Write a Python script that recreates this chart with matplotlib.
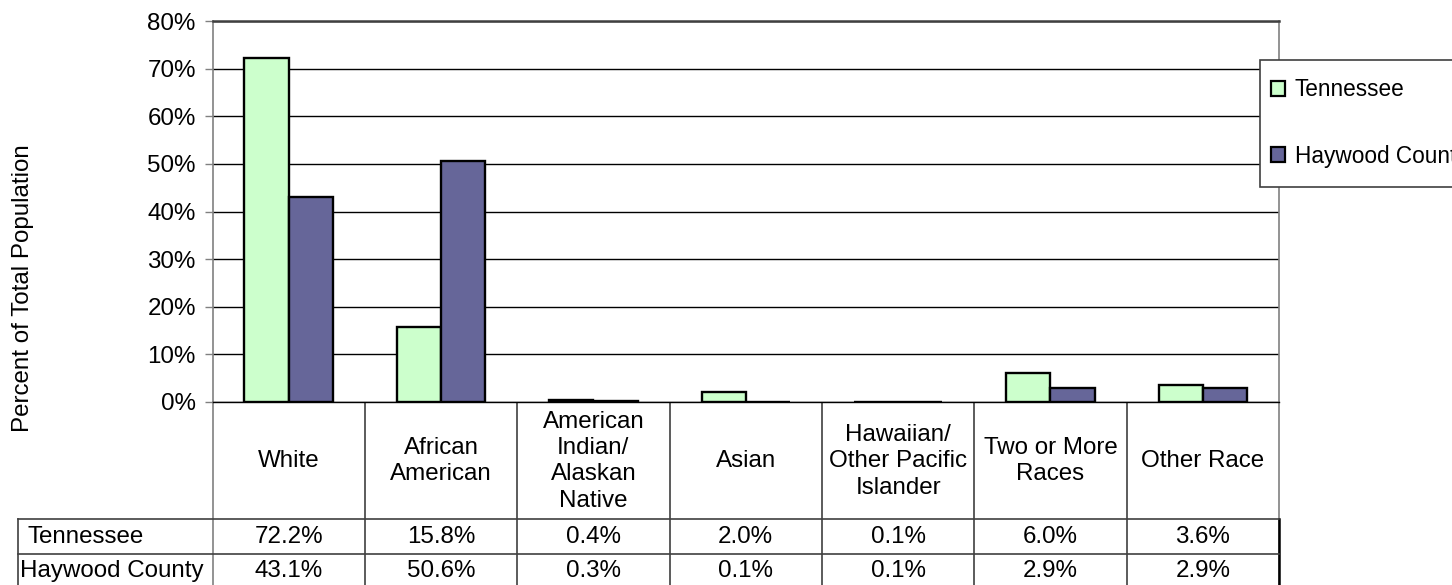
import matplotlib
matplotlib.use("Agg")
import matplotlib.pyplot as plt
from matplotlib.patches import Rectangle
import numpy as np

plt.rcParams['font.family'] = ['Liberation Sans', 'DejaVu Sans']

categories = ["White", "African\nAmerican", "American\nIndian/\nAlaskan\nNative", "Asian",
              "Hawaiian/\nOther Pacific\nIslander", "Two or More\nRaces", "Other Race"]
series_names = ["Tennessee", "Haywood County"]
tennessee = [72.2, 15.8, 0.4, 2.0, 0.1, 6.0, 3.6]
haywood = [43.1, 50.6, 0.3, 0.1, 0.1, 2.9, 2.9]
yticks = [0, 10, 20, 30, 40, 50, 60, 70, 80]
colors = ["#CCFFCC", "#666699"]

W, H = 1452, 585
fig = plt.figure(figsize=(W / 100, H / 100), dpi=100)

# pixel layout
ax_l, ax_r, ax_t, ax_b = 212.5, 1279, 21, 402
hdr_b = 518.5
row1_b = 553.5
row2_b = 586
lbl_l = 18
FS = 17.4
LFS = 16.3

ax = fig.add_axes([ax_l / W, 1 - ax_b / H, (ax_r - ax_l) / W, (ax_b - ax_t) / H])
n = len(categories)
x = np.arange(n)
bw = 0.29
series = [tennessee, haywood]
for i, (vals, c) in enumerate(zip(series, colors)):
    ax.bar(x + (i - 0.5) * bw, vals, width=bw, color=c, edgecolor="black",
           linewidth=1.7, zorder=3)
ax.set_xlim(-0.5, n - 0.5)
ax.set_ylim(0, 80)
ax.set_yticks(yticks)
ax.set_yticklabels([f"{t}%" for t in yticks], fontsize=FS)
ax.yaxis.grid(True, color="black", linewidth=1.0, zorder=0)
ax.set_axisbelow(True)
ax.set_xticks([])
ax.tick_params(axis="y", length=6, width=1, color="#808080", pad=6)
for s in ["left", "right"]:
    ax.spines[s].set_color("#808080")
    ax.spines[s].set_linewidth(1.2)
ax.spines["top"].set_color("#404040")
ax.spines["top"].set_linewidth(1.8)
ax.spines["bottom"].set_color("black")
ax.spines["bottom"].set_linewidth(1.0)

# legend frame drawn separately, legend itself frameless
frame = Rectangle((1260 / W, 1 - 187 / H), 200 / W, 127 / H, transform=fig.transFigure,
                  facecolor="white", edgecolor="#404040", linewidth=1.2, zorder=5)
fig.add_artist(frame)
handles = [Rectangle((0, 0), 1, 1, facecolor=c, edgecolor="black", linewidth=1.6) for c in colors]
leg = fig.legend(handles, series_names, loc="center left",
                 bbox_to_anchor=(1271 / W, 1 - 123 / H), borderaxespad=0,
                 fontsize=LFS, frameon=False,
                 handlelength=0.6, handleheight=0.6, handletextpad=0.45,
                 labelspacing=1.9, borderpad=0)
leg.set_zorder(6)

# y label
fig.text(23 / W, 1 - 288 / H, "Percent of Total Population", rotation=90,
         ha="center", va="center", fontsize=FS)

# data table below
tab = fig.add_axes([0, 0, 1, 1], zorder=-1)
tab.set_xlim(0, W)
tab.set_ylim(H, 0)
tab.axis("off")
colw = (ax_r - ax_l) / n
bounds = [ax_l + k * colw for k in range(n + 1)]
lc = "#404040"
for k, bx in enumerate(bounds):
    tab.plot([bx, bx], [ax_b, row2_b], color=lc if 0 < k < n else "#808080", lw=1.2)
tab.plot([lbl_l, lbl_l], [hdr_b, row2_b], color=lc, lw=1.2)
tab.plot([ax_r, ax_r], [hdr_b, row2_b], color="black", lw=1.8)
for yy in [hdr_b, row1_b]:
    tab.plot([lbl_l, ax_r], [yy, yy], color=lc, lw=1.2)
for k, cat in enumerate(categories):
    cx = (bounds[k] + bounds[k + 1]) / 2
    tab.text(cx, (ax_b + hdr_b) / 2 + 1, cat, ha="center", va="center",
             fontsize=FS, linespacing=1.26)
row_centers = [(hdr_b + row1_b) / 2, (row1_b + row2_b) / 2]
for r, (name, vals) in enumerate(zip(series_names, series)):
    tab.text(lbl_l + 10 if r == 0 else lbl_l + 2, row_centers[r] + 1, name,
             ha="left", va="center", fontsize=FS)
    for k, v in enumerate(vals):
        cx = (bounds[k] + bounds[k + 1]) / 2
        tab.text(cx, row_centers[r] + 1, f"{v:.1f}%", ha="center", va="center", fontsize=FS)

fig.savefig("out.png", dpi=100)
